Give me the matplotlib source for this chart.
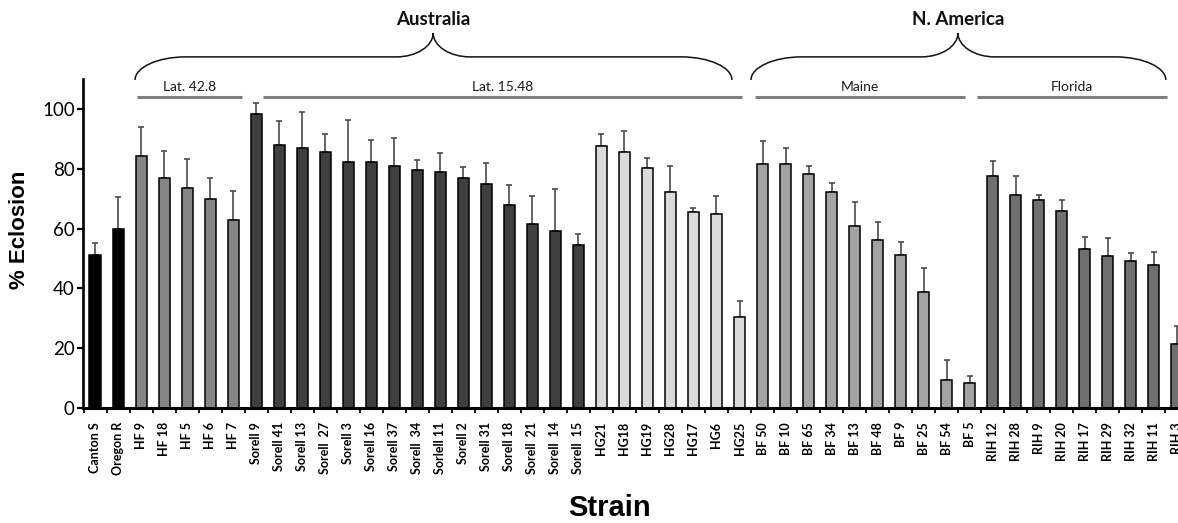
import matplotlib
matplotlib.use("Agg")
import matplotlib.pyplot as plt
import numpy as np
from matplotlib.path import Path
from matplotlib.patches import PathPatch


# strain names, in plotting order
strains = [
    "Canton S", "Oregon R",
    "HF 9", "HF 18", "HF 5", "HF 6", "HF 7",
    "Sorell 9", "Sorell 41", "Sorell 13", "Sorell  27", "Sorell 3", "Sorell 16",
    "Sorell 37", "Sorell  34", "Sorlell 11", "Sorell 2", "Sorell 31", "Sorell 18",
    "Sorell  21", "Sorell  14", "Sorell  15",
    "HG21", "HG18", "HG19", "HG28", "HG17", "HG6", "HG25",
    "BF 50", "BF 10", "BF 65", "BF 34", "BF 13", "BF 48", "BF 9", "BF 25",
    "BF 54", "BF 5",
    "RIH 12", "RIH 28", "RIH 9", "RIH 20", "RIH 17", "RIH 29", "RIH 32",
    "RIH 11", "RIH 3",
]

eclosion = [
    51.3, 59.9,
    84.3, 76.9, 73.4, 69.9, 62.9,
    98.3, 87.8, 87.0, 85.6, 82.3, 82.4, 81.0, 79.7, 78.9, 76.9, 74.8, 67.8,
    61.6, 59.1, 54.4,
    87.7, 85.6, 80.4, 72.2, 65.6, 65.0, 30.3,
    81.7, 81.7, 78.4, 72.2, 60.9, 56.3, 51.3, 38.8, 9.3, 8.2,
    77.7, 71.3, 69.7, 65.8, 53.3, 50.8, 49.3, 47.7, 21.4,
]

sem = [
    3.8, 10.6,
    9.6, 9.2, 10.0, 6.9, 9.8,
    3.6, 8.0, 11.9, 6.1, 14.0, 7.2, 9.2, 3.1, 6.3, 3.7, 7.0, 6.8, 9.2, 14.1, 3.9,
    4.0, 7.0, 3.3, 8.6, 1.2, 5.8, 5.4,
    7.6, 5.1, 2.4, 3.1, 7.9, 6.0, 4.1, 7.9, 6.6, 2.4,
    4.8, 6.4, 1.6, 3.9, 3.9, 6.1, 2.6, 4.5, 5.9,
]

group_sizes = [2, 5, 15, 7, 10, 9]
group_colors = ["#000000", "#858585", "#3f3f3f", "#dadada", "#a3a3a3", "#6f6f6f"]

# sub-region labels above the bars: (label, start, end) in bar units
sub_regions = [
    ("Lat. 42.8", 1.82, 6.39),
    ("Lat. 15.48", 7.30, 28.10),
    ("Maine", 28.67, 37.79),
    ("Florida", 38.31, 46.57),
]
# continent braces: (label, left tip, right tip, cusp)
continents = [
    ("Australia", 1.74, 27.67, 14.69),
    ("N. America", 28.50, 46.52, 37.49),
]

CAL = ["Lato", "DejaVu Sans"]
ARIAL = ["Liberation Sans", "DejaVu Sans"]


def brace(ax, x0, x1, xm, y_tip, y_mid, y_top, rx=2.2, rx2=1.6):
    verts = [
        (x0, y_tip),
        (x0, y_tip + 0.55 * (y_mid - y_tip)), (x0 + 0.45 * rx, y_mid), (x0 + rx, y_mid),
        (xm - rx2, y_mid),
        (xm - 0.45 * rx2, y_mid), (xm, y_mid + 0.45 * (y_top - y_mid)), (xm, y_top),
        (xm, y_mid + 0.45 * (y_top - y_mid)), (xm + 0.45 * rx2, y_mid), (xm + rx2, y_mid),
        (x1 - rx, y_mid),
        (x1 - 0.45 * rx, y_mid), (x1, y_tip + 0.55 * (y_mid - y_tip)), (x1, y_tip),
    ]
    codes = [Path.MOVETO,
             Path.CURVE4, Path.CURVE4, Path.CURVE4,
             Path.LINETO,
             Path.CURVE4, Path.CURVE4, Path.CURVE4,
             Path.CURVE4, Path.CURVE4, Path.CURVE4,
             Path.LINETO,
             Path.CURVE4, Path.CURVE4, Path.CURVE4]
    patch = PathPatch(Path(verts, codes), facecolor="none", edgecolor="#111111",
                      lw=1.1, clip_on=False)
    ax.add_patch(patch)


def main() -> None:
    fig = plt.figure(figsize=(11.78, 5.23), dpi=100)
    ax = fig.add_axes([0.0705, 0.2199, 0.9295, 0.629])

    x = np.arange(len(strains))
    colors = []
    for size, c in zip(group_sizes, group_colors):
        colors.extend([c] * size)

    vals = np.asarray(eclosion)
    err = np.asarray(sem)
    ax.errorbar(x, vals, yerr=[np.zeros_like(err), err], fmt="none",
                ecolor="#4a4a4a", elinewidth=1.2, capsize=2.2, capthick=1.2, zorder=1)
    ax.bar(x, vals, width=0.48, color=colors, edgecolor="#000000", linewidth=1.1, zorder=2)

    ax.set_yticks([0, 20, 40, 60, 80, 100])
    ax.set_xticks(x)
    ax.set_xticklabels(strains, rotation=90, fontsize=9, fontweight="bold",
                       family=CAL, va="top", ha="center")
    ax.set_xticks(np.arange(-0.5, len(strains) + 0.5, 1.0), minor=True)
    # limits after the ticks, set_xticks widens the view otherwise
    ax.set_xlim(-0.52, 47.05)
    ax.set_ylim(0, 110)
    ax.tick_params(axis="x", which="major", length=0, pad=10)
    ax.tick_params(axis="x", which="minor", length=3.5, width=1.3, direction="out")
    ax.tick_params(axis="y", which="major", length=4, width=1.6, direction="out",
                   labelsize=13.5, pad=2)
    for lab in ax.get_yticklabels():
        lab.set_family(CAL)

    for side in ("top", "right"):
        ax.spines[side].set_visible(False)
    ax.spines["left"].set_linewidth(1.9)
    ax.spines["bottom"].set_linewidth(2.2)

    # sub-region bars and labels
    for label, s, e in sub_regions:
        ax.plot([s, e], [104.0, 104.0], color="#7f7f7f", lw=2.2,
                solid_capstyle="butt", clip_on=False)
        ax.text((s + e) / 2, 107.4, label, ha="center", va="center",
                fontsize=10, family=CAL, color="#1a1a1a")

    # continent braces
    for label, x0, x1, xm in continents:
        brace(ax, x0, x1, xm, 109.7, 117.4, 125.4)
        ax.text(xm, 129.8, label, ha="center", va="center", fontsize=13.5,
                fontweight="bold", family=CAL, color="#111111", clip_on=False)

    fig.text(20 / 1178, 1 - 230 / 523, "% Eclosion", rotation=90, ha="center",
             va="center", fontsize=16, fontweight="bold", family=ARIAL)
    fig.text(609 / 1178, 0.002, "Strain", ha="center", va="bottom",
             fontsize=21, fontweight="bold", family=ARIAL)

    fig.savefig("out.png", dpi=100)
    plt.close(fig)


if __name__ == "__main__":
    main()
